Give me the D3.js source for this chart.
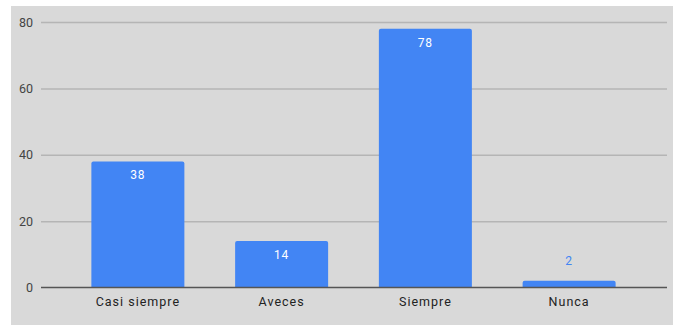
<!DOCTYPE html>
<html>
<head>
<meta charset="utf-8">
<script src="https://cdn.jsdelivr.net/npm/d3@7"></script>
<style>
  html, body { margin: 0; padding: 0; background: #ffffff; }
  svg { display: block; }
</style>
</head>
<body>
<svg id="chart" width="673" height="325"></svg>
<script>
// Responses per category
const categories = ["Casi siempre", "Aveces", "Siempre", "Nunca"];
const values = [38, 14, 78, 2];
const yTicks = [0, 20, 40, 60, 80];

const svg = d3.select("#chart");

// chart panel background
svg.append("rect")
  .attr("x", 11).attr("y", 6)
  .attr("width", 662).attr("height", 319)
  .attr("fill", "#d9d9d9");

const y = d3.scaleLinear().domain([0, 80]).range([287.5, 22]);
const x = d3.scaleBand().domain(categories).range([66, 641])
  .paddingInner(0.353).paddingOuter(0.1765);

const gridX0 = 41, gridX1 = 667;

// horizontal gridlines + tick labels
const yAxis = d3.axisLeft(y).tickValues(yTicks).tickSize(-(gridX1 - gridX0)).tickPadding(8);
const gy = svg.append("g").attr("transform", `translate(${gridX0},0)`).call(yAxis);
gy.select(".domain").remove();
gy.selectAll(".tick line").attr("stroke", "#b5b5b5").attr("stroke-width", 1.5);
gy.selectAll(".tick text")
  .attr("fill", "#444").attr("font-family", "Roboto, sans-serif").attr("font-size", 12.5);
gy.selectAll(".tick").filter(d => d === 0).select("line").attr("stroke-opacity", 0);

// bars with slightly rounded tops
const r = 2;
svg.append("g").selectAll("path")
  .data(categories)
  .join("path")
  .attr("fill", "#4285f4")
  .attr("d", (c, i) => {
    const x0 = x(c), w = x.bandwidth(), y0 = y(values[i]), yb = y(0);
    return `M${x0},${yb}V${y0 + r}Q${x0},${y0} ${x0 + r},${y0}H${x0 + w - r}Q${x0 + w},${y0} ${x0 + w},${y0 + r}V${yb}Z`;
  });

// baseline
svg.append("line")
  .attr("x1", gridX0).attr("x2", gridX1)
  .attr("y1", y(0)).attr("y2", y(0))
  .attr("stroke", "#555").attr("stroke-width", 1.5);

// value labels: inside bar when tall enough, above otherwise
svg.append("g").selectAll("text")
  .data(categories)
  .join("text")
  .attr("x", c => x(c) + x.bandwidth() / 2)
  .attr("y", (c, i) => {
    const inside = y(0) - y(values[i]) > 30;
    return inside ? y(values[i]) + 18 : y(values[i]) - 16;
  })
  .attr("text-anchor", "middle")
  .attr("font-family", "Roboto, sans-serif")
  .attr("font-size", 12)
  .attr("letter-spacing", 0.8)
  .attr("fill", (c, i) => (y(0) - y(values[i]) > 30 ? "#ffffff" : "#4285f4"))
  .text((c, i) => values[i]);

// category axis labels
const xAxis = d3.axisBottom(x).tickSize(0).tickPadding(10);
const gx = svg.append("g").attr("transform", `translate(0,${y(0)})`).call(xAxis);
gx.select(".domain").remove();
gx.selectAll(".tick text")
  .attr("fill", "#222").attr("font-family", "Roboto, sans-serif")
  .attr("font-size", 12.5).attr("letter-spacing", 1);
</script>
</body>
</html>
